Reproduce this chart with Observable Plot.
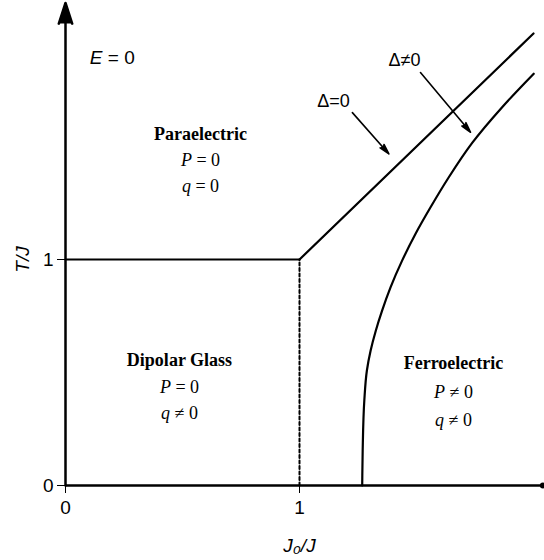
<!DOCTYPE html>
<html><head><meta charset="utf-8">
<script src="https://cdn.jsdelivr.net/npm/d3@7"></script>
<script src="https://cdn.jsdelivr.net/npm/@observablehq/plot@0.6"></script>
<style>body{margin:0;background:#fff} #chart svg{display:block}</style>
</head><body><div id="chart"></div><script>
// ---- data ----
const xTicks = [0, 1];
const yTicks = [0, 1];
const xLabel = "J₀/J";
const yLabel = "T/J";
const xDomain = [0, 2];
const yDomain = [0, 2];
const axisEndX = 2.04;
const axisEndY = 2.135;

// Paraelectric / dipolar glass boundary
const paraGlassX = [0, 1];
const paraGlassY = [1, 1];
// Paraelectric / ferroelectric boundary (Δ=0 line)
const paraFerroX = [1, 2];
const paraFerroY = [1, 2];
// Dipolar glass / ferroelectric (dotted)
const glassFerroX = [1, 1];
const glassFerroY = [0, 1];
// Δ≠0 curve
const ferroX = [1.268, 1.270, 1.277, 1.288, 1.304, 1.326, 1.353, 1.389, 1.439, 1.496, 1.560, 1.638, 1.738, 1.866, 2.001];
const ferroY = [0.000, 0.155, 0.376, 0.509, 0.597, 0.685, 0.774, 0.877, 0.996, 1.114, 1.231, 1.364, 1.516, 1.674, 1.822];

// Region labels
const regionNames = ["Paraelectric", "Dipolar Glass", "Ferroelectric"];
const regionX = [0.577, 0.487, 1.658];
const regionY = [1.553, 0.555, 0.540];
const regionP = ["P = 0", "P = 0", "P ≠ 0"];
const regionPY = [1.438, 0.436, 0.413];
const regionQ = ["q = 0", "q ≠ 0", "q ≠ 0"];
const regionQY = [1.323, 0.318, 0.290];

// Δ labels and arrows
const deltaLabels = ["Δ=0", "Δ≠0"];
const deltaLabelX = [1.145, 1.449];
const deltaLabelY = [1.699, 1.881];
const deltaArrowX1 = [1.226, 1.517];
const deltaArrowY1 = [1.650, 1.827];
const deltaArrowX2 = [1.382, 1.731];
const deltaArrowY2 = [1.467, 1.563];

const fieldLabel = ["E = 0"];
const fieldX = [0.20];
const fieldY = [1.894];

// ---- build tables ----
const toPts = (xs, ys) => xs.map((x, i) => ({x, y: ys[i]}));
const regions = regionNames.map((n, i) => ({n, x: regionX[i], y: regionY[i], p: regionP[i], py: regionPY[i], q: regionQ[i], qy: regionQY[i]}));
const deltas = deltaLabels.map((t, i) => ({t, x: deltaLabelX[i], y: deltaLabelY[i], x1: deltaArrowX1[i], y1: deltaArrowY1[i], x2: deltaArrowX2[i], y2: deltaArrowY2[i]}));
const field = fieldLabel.map((t, i) => ({t, x: fieldX[i], y: fieldY[i]}));

const sans = "Liberation Sans, Arial, sans-serif";
const serif = "Liberation Serif, Times New Roman, serif";

const chart = Plot.plot({
  width: 544,
  height: 560,
  marginLeft: 65,
  marginRight: 11,
  marginTop: 33,
  marginBottom: 75,
  style: {fontFamily: sans, fontSize: "19px", color: "black", background: "white"},
  x: {domain: xDomain},
  y: {domain: yDomain},
  marks: [
    Plot.axisX({ticks: xTicks, tickSize: 8, tickPadding: 7, tickFormat: d => String(d), fontSize: 19, label: xLabel, labelAnchor: "center", labelArrow: "none", labelOffset: 66}),
    Plot.axisY({ticks: yTicks, tickSize: 8, tickPadding: 4, tickFormat: d => String(d), fontSize: 19, label: yLabel, labelAnchor: "center", labelArrow: "none", labelOffset: 50}),
    // axes lines
    Plot.ruleY([0], {x1: 0, x2: axisEndX, stroke: "black", strokeWidth: 2.5}),
    Plot.dot([{x: axisEndX, y: 0}], {x: "x", y: "y", r: 3, fill: "black", stroke: "none"}),
    Plot.arrow([{x: 0, y: 0, y2: axisEndY}], {x1: "x", y1: "y", x2: "x", y2: "y2", stroke: "black", fill: "black", strokeWidth: 2.5, headLength: 13, headAngle: 36, strokeLinejoin: "miter"}),
    // boundaries
    Plot.line(toPts(paraGlassX, paraGlassY), {x: "x", y: "y", stroke: "black", strokeWidth: 2.2}),
    Plot.line(toPts(paraFerroX, paraFerroY), {x: "x", y: "y", stroke: "black", strokeWidth: 2.2}),
    Plot.line(toPts(glassFerroX, glassFerroY), {x: "x", y: "y", stroke: "black", strokeWidth: 2, strokeDasharray: "3,2.5"}),
    Plot.line(toPts(ferroX, ferroY), {x: "x", y: "y", stroke: "black", strokeWidth: 2.2, curve: "monotone-y"}),
    // Δ arrows
    Plot.arrow(deltas, {x1: "x1", y1: "y1", x2: "x2", y2: "y2", stroke: "black", fill: "black", strokeWidth: 1.6, headLength: 10, headAngle: 28, strokeLinejoin: "miter"}),
    Plot.text(deltas, {x: "x", y: "y", text: "t", fontFamily: sans, fontSize: 18}),
    // region labels
    Plot.text(regions, {x: "x", y: "y", text: "n", fontFamily: serif, fontWeight: "bold", fontSize: 18}),
    Plot.text(regions, {x: "x", y: "py", text: "p", fontFamily: serif, fontSize: 18}),
    Plot.text(regions, {x: "x", y: "qy", text: "q", fontFamily: serif, fontSize: 18}),
    Plot.text(field, {x: "x", y: "y", text: "t", fontFamily: sans, fontSize: 19})
  ]
});

// italicize variable letters in math labels and axis labels
d3.select(chart).selectAll("text").each(function () {
  const el = d3.select(this);
  if (el.selectAll("tspan").size() > 0) return;
  const t = this.textContent;
  const m = /^([PqE])( [=≠] 0)$/.exec(t);
  if (m) {
    el.text(null);
    el.append("tspan").attr("font-style", "italic").text(m[1]);
    el.append("tspan").text(m[2]);
  } else if (t === xLabel || t === yLabel) {
    el.attr("font-style", "italic");
  }
});

document.getElementById("chart").appendChild(chart);
</script></body></html>
